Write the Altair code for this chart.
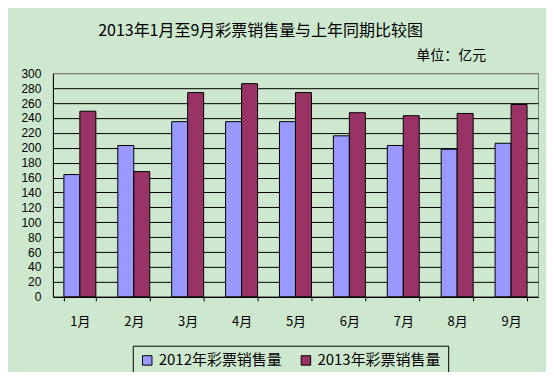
import altair as alt
import pandas as pd

months = ["1月", "2月", "3月", "4月", "5月", "6月", "7月", "8月", "9月"]
series_names = ["2012年彩票销售量", "2013年彩票销售量"]
sales_2012 = [164, 203, 235, 235, 235, 216, 203, 198, 206]
sales_2013 = [249, 168, 274, 286, 274, 247, 243, 246, 258]
y_ticks = list(range(0, 301, 20))
title_text = "2013年1月至9月彩票销售量与上年同期比较图"
unit_text = "单位：亿元"

rows = []
for m, a, b in zip(months, sales_2012, sales_2013):
    rows.append({"month": m, "series": series_names[0], "value": a})
    rows.append({"month": m, "series": series_names[1], "value": b})
df = pd.DataFrame(rows)

FONT = "Noto Sans CJK SC"

bars = alt.Chart(df).mark_bar(stroke="black", strokeWidth=1).encode(
    x=alt.X("month:N", sort=months, title=None,
            scale=alt.Scale(paddingInner=0.407, paddingOuter=0.2035),
            axis=alt.Axis(labelAngle=0, labelFontSize=13, labelFont=FONT, labelColor="black",
                          domainColor="black", tickColor="black", tickBand="extent",
                          tickSize=4, labelPadding=15)),
    xOffset=alt.XOffset("series:N", sort=series_names),
    y=alt.Y("value:Q", title=None,
            scale=alt.Scale(domain=[0, 300], nice=False),
            axis=alt.Axis(values=y_ticks, labelFontSize=12, labelFont="Liberation Sans",
                          labelColor="black", labelOverlap=False,
                          domainColor="black", ticks=False, labelPadding=12,
                          grid=True,
                          gridColor={"condition": {"test": "datum.value === 300", "value": "#808080"},
                                     "value": "black"},
                          gridWidth=1)),
    color=alt.Color("series:N", sort=series_names,
                    scale=alt.Scale(domain=series_names, range=["#9999FF", "#993366"]),
                    legend=alt.Legend(title=None, orient="none", legendX=80, legendY=273,
                                      direction="horizontal", strokeColor="black",
                                      padding=7, labelFontSize=15, labelFont=FONT,
                                      labelColor="black", symbolType="square",
                                      symbolSize=90, symbolStrokeColor="black",
                                      symbolStrokeWidth=1, columnPadding=16,
                                      labelLimit=300)),
)

title_df = pd.DataFrame({"t": [title_text]})
title = alt.Chart(title_df).mark_text(fontSize=16, font=FONT, color="black",
                                      align="center", baseline="middle").encode(
    text="t:N", x=alt.value(208), y=alt.value(-42))

unit_df = pd.DataFrame({"t": [unit_text]})
unit = alt.Chart(unit_df).mark_text(fontSize=14, font=FONT, color="black",
                                    align="right", baseline="middle").encode(
    text="t:N", x=alt.value(434), y=alt.value(-17))

chart = alt.layer(bars, title, unit).properties(
    width=486, height=224,
    background="#CDE8CF",
    padding={"left": 45, "top": 65, "right": 8, "bottom": 75},
    autosize=alt.AutoSizeParams(type="none"),
).configure_view(stroke="#808080", strokeWidth=1)

chart.save("out.html", embed_options={"renderer": "svg", "actions": False})
